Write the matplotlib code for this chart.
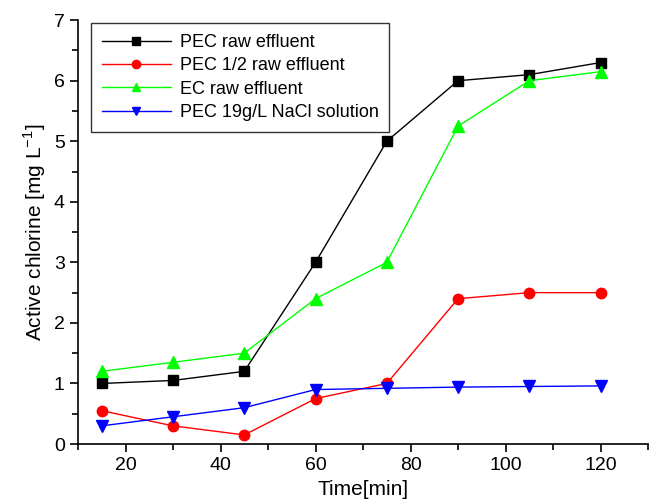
import matplotlib
matplotlib.use('Agg')
import matplotlib.pyplot as plt
from matplotlib.ticker import MultipleLocator

plt.rcParams['font.family'] = ['Liberation Sans', 'DejaVu Sans']

time = [15, 30, 45, 60, 75, 90, 105, 120]
pec_raw = [1.0, 1.05, 1.2, 3.0, 5.0, 6.0, 6.1, 6.3]
pec_half = [0.55, 0.3, 0.15, 0.75, 1.0, 2.4, 2.5, 2.5]
ec_raw = [1.2, 1.35, 1.5, 2.4, 3.0, 5.25, 6.0, 6.15]
pec_nacl = [0.3, 0.45, 0.6, 0.9, 0.92, 0.94, 0.95, 0.96]

labels = ['PEC raw effluent', 'PEC 1/2 raw effluent', 'EC raw effluent',
          'PEC 19g/L NaCl solution']

fig = plt.figure(figsize=(6.5, 5.04), dpi=100)
ax = fig.add_axes([0.12, 0.119, 0.877, 0.841])

ax.plot(time, pec_raw, color='black', marker='s', ms=6.5, lw=1, label=labels[0])
ax.plot(time, pec_half, color='#ff0000', marker='o', ms=7.5, lw=1, label=labels[1])
ax.plot(time, ec_raw, color='#00ff00', marker='^', ms=8, lw=1, label=labels[2])
ax.plot(time, pec_nacl, color='#0000ff', marker='v', ms=8, lw=1, label=labels[3])

ax.set_xlim(10, 130)
ax.set_ylim(0, 7)
ax.xaxis.set_major_locator(MultipleLocator(20))
ax.xaxis.set_minor_locator(MultipleLocator(10))
ax.yaxis.set_major_locator(MultipleLocator(1))
ax.yaxis.set_minor_locator(MultipleLocator(0.5))

for s in ['top', 'right']:
    ax.spines[s].set_visible(False)
for s in ['left', 'bottom']:
    ax.spines[s].set_linewidth(1.2)

ax.tick_params(which='major', direction='out', length=6, width=1.2, labelsize=14)
ax.tick_params(which='minor', direction='out', length=4, width=1.2)

ax.set_xlabel('Time[min]', fontsize=15, labelpad=4)
ax.set_ylabel('Active chlorine [mg L$^{\\mathregular{-1}}$]', fontsize=15)

leg = ax.legend(loc='upper left', bbox_to_anchor=(0.023, 0.993), fontsize=13,
                frameon=True, fancybox=False, edgecolor='black',
                handlelength=3.8, handletextpad=0.5, borderpad=0.6,
                labelspacing=0.35, markerscale=0.8, borderaxespad=0)
leg.get_frame().set_linewidth(1.0)

fig.savefig('out.png', dpi=100)
